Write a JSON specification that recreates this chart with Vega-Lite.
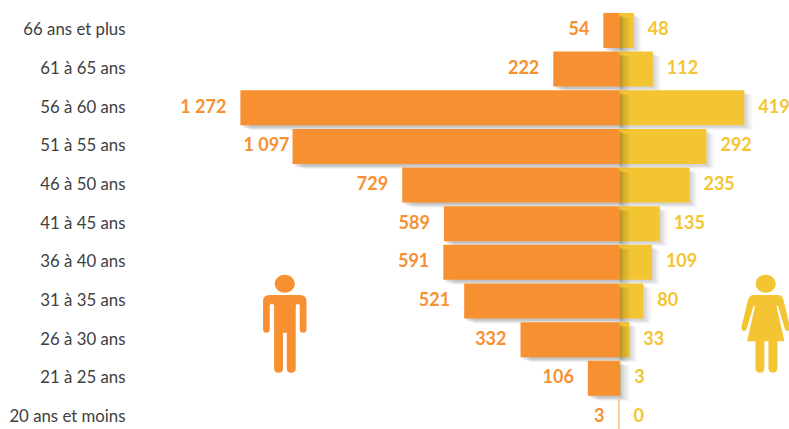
{"$schema":"https://vega.github.io/schema/vega-lite/v6.json","width":658,"height":418,"autosize":"none","padding":{"left":131,"top":11,"right":0,"bottom":0},"background":"white","datasets":{"rows":[
{"age":"66 ans et plus","men":-54,"women":48,"menLabel":"54"},
{"age":"61 à 65 ans","men":-222,"women":112,"menLabel":"222"},
{"age":"56 à 60 ans","men":-1272,"women":419,"menLabel":"1 272"},
{"age":"51 à 55 ans","men":-1097,"women":292,"menLabel":"1 097"},
{"age":"46 à 50 ans","men":-729,"women":235,"menLabel":"729"},
{"age":"41 à 45 ans","men":-589,"women":135,"menLabel":"589"},
{"age":"36 à 40 ans","men":-591,"women":109,"menLabel":"591"},
{"age":"31 à 35 ans","men":-521,"women":80,"menLabel":"521"},
{"age":"26 à 30 ans","men":-332,"women":33,"menLabel":"332"},
{"age":"21 à 25 ans","men":-106,"women":3,"menLabel":"106"},
{"age":"20 ans et moins","men":-3,"women":0,"menLabel":"3"}
],"icons":[{"age":"31 à 35 ans","sex":"man","at":-1123},{"age":"31 à 35 ans","sex":"woman","at":491}]},
"data":{"name":"rows"},
"encoding":{"y":{"field":"age","type":"nominal","sort":null,"title":null,"scale":{"range":[0,425.4],"paddingInner":0.095,"paddingOuter":0.05},"axis":{"ticks":false,"domain":false,"grid":false,"labelPadding":6,"labelFont":"Lato","labelFontSize":16.8,"labelColor":"#404040","labelLimit":200}}},
"layer":[
{"transform":[{"filter":"datum.women > 3"}],"mark":{"type":"bar","color":"#000000","opacity":0.05,"xOffset":2,"yOffset":2},"encoding":{"x":{"field":"women","type":"quantitative","scale":{"domain":[-1639,569],"nice":false,"zero":false},"axis":null},"x2":{"datum":0}}},
{"transform":[{"filter":"datum.women > 3"}],"mark":{"type":"bar","color":"#000000","opacity":0.05,"xOffset":4,"yOffset":3},"encoding":{"x":{"field":"women","type":"quantitative"},"x2":{"datum":0}}},
{"transform":[{"filter":"datum.women > 3"}],"mark":{"type":"bar","color":"#000000","opacity":0.04,"xOffset":6,"yOffset":4},"encoding":{"x":{"field":"women","type":"quantitative"},"x2":{"datum":0}}},
{"transform":[{"filter":"datum.women > 3"}],"mark":{"type":"bar","color":"#000000","opacity":0.03,"xOffset":8,"yOffset":5},"encoding":{"x":{"field":"women","type":"quantitative"},"x2":{"datum":0}}},
{"mark":{"type":"bar","color":"#F3C532"},"encoding":{"x":{"field":"women","type":"quantitative"},"x2":{"datum":0}}},
{"transform":[{"filter":"datum.men < -3"}],"mark":{"type":"bar","color":"#000000","opacity":0.08,"xOffset":2,"x2Offset":2,"yOffset":2},"encoding":{"x":{"field":"men","type":"quantitative"},"x2":{"datum":0}}},
{"transform":[{"filter":"datum.men < -3"}],"mark":{"type":"bar","color":"#000000","opacity":0.07,"xOffset":4,"x2Offset":4,"yOffset":3},"encoding":{"x":{"field":"men","type":"quantitative"},"x2":{"datum":0}}},
{"transform":[{"filter":"datum.men < -3"}],"mark":{"type":"bar","color":"#000000","opacity":0.06,"xOffset":7,"x2Offset":7,"yOffset":4},"encoding":{"x":{"field":"men","type":"quantitative"},"x2":{"datum":0}}},
{"transform":[{"filter":"datum.men < -3"}],"mark":{"type":"bar","color":"#000000","opacity":0.05,"xOffset":10,"x2Offset":10,"yOffset":5},"encoding":{"x":{"field":"men","type":"quantitative"},"x2":{"datum":0}}},
{"mark":{"type":"bar","color":"#F79031"},"encoding":{"x":{"field":"men","type":"quantitative"},"x2":{"datum":0}}},
{"transform":[{"filter":"datum.menLabel !== '1 097'"}],"mark":{"type":"text","align":"right","baseline":"middle","dx":-14,"font":"Lato","fontWeight":"bold","fontSize":18,"color":"#F79031"},"encoding":{"x":{"field":"men","type":"quantitative"},"text":{"field":"menLabel"}}},
{"transform":[{"filter":"datum.menLabel === '1 097'"}],"mark":{"type":"text","align":"right","baseline":"middle","dx":-3,"font":"Lato","fontWeight":"bold","fontSize":18,"color":"#F79031"},"encoding":{"x":{"field":"men","type":"quantitative"},"text":{"field":"menLabel"}}},
{"mark":{"type":"text","align":"left","baseline":"middle","dx":14,"font":"Lato","fontWeight":"bold","fontSize":18,"color":"#F3C532"},"encoding":{"x":{"field":"women","type":"quantitative"},"text":{"field":"women","type":"quantitative"}}},
{"data":{"name":"icons"},"transform":[{"filter":"datum.sex === 'man'"}],"mark":{"type":"point","filled":true,"opacity":1,"color":"#F79031","size":9604,"yOffset":23,"shape":"M-.443 -.469 Q-.443 -.592 -.306 -.592 L.306 -.592 Q.443 -.592 .443 -.469 L.443 .11 Q.443 .178 .375 .178 Q.306 .178 .306 .11 L.306 -.37 Q.306 -.408 .265 -.408 Q.224 -.408 .224 -.37 L.224 .902 Q.224 .994 .132 .994 Q.041 .994 .041 .902 L.041 .178 L-.035 .178 L-.035 .902 Q-.035 .994 -.127 .994 Q-.218 .994 -.218 .902 L-.218 -.37 Q-.218 -.408 -.26 -.408 Q-.306 -.408 -.306 -.37 L-.306 .11 Q-.306 .178 -.375 .178 Q-.443 .178 -.443 .11Z M-.204 -.822 A.204 .184 0 1 1 .204 -.822 A.204 .184 0 1 1 -.204 -.822Z"},"encoding":{"x":{"field":"at","type":"quantitative"}}},
{"data":{"name":"icons"},"transform":[{"filter":"datum.sex === 'woman'"}],"mark":{"type":"point","filled":true,"opacity":1,"color":"#F3C532","size":9604,"yOffset":23,"shape":"M-.25 -.592 L.25 -.592 Q.33 -.592 .36 -.5 L.496 .061 Q.5 .143 .44 .143 Q.4 .143 .382 .076 L.251 -.367 L.218 -.367 L.382 .353 L.239 .353 L.239 .9 Q.239 .994 .147 .994 Q.055 .994 .055 .9 L.055 .353 L-.027 .353 L-.027 .9 Q-.027 .994 -.118 .994 Q-.21 .994 -.21 .9 L-.21 .353 L-.382 .353 L-.218 -.367 L-.251 -.367 L-.382 .076 Q-.4 .143 -.44 .143 Q-.5 .143 -.496 .061 L-.36 -.5 Q-.33 -.592 -.25 -.592Z M-.204 -.822 A.204 .184 0 1 1 .204 -.822 A.204 .184 0 1 1 -.204 -.822Z"},"encoding":{"x":{"field":"at","type":"quantitative"}}}
],
"resolve":{"scale":{"x":"shared","y":"shared"}},
"config":{"view":{"stroke":null}}}
